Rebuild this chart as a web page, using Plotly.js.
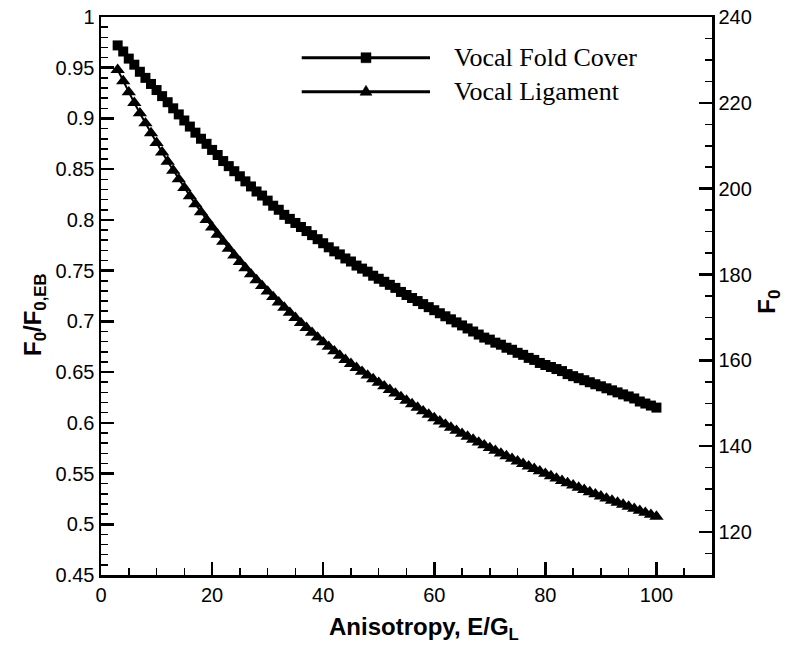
<!DOCTYPE html>
<html>
<head>
<meta charset="utf-8">
<script src="https://cdn.plot.ly/plotly-3.0.1.min.js"></script>
<style>html,body{margin:0;padding:0;background:#fff;}#chart{width:798px;height:650px;}</style>
</head>
<body>
<div id="chart"></div>
<script>
// ---- data ----
var anisotropy = [3,4,5,6,7,8,9,10,11,12,13,14,15,16,17,18,19,20,21,22,23,24,25,26,27,28,29,30,
  31,32,33,34,35,36,37,38,39,40,41,42,43,44,45,46,47,48,49,50,51,52,53,54,55,56,57,58,59,60,
  61,62,63,64,65,66,67,68,69,70,71,72,73,74,75,76,77,78,79,80,81,82,83,84,85,86,87,88,89,90,
  91,92,93,94,95,96,97,98,99,100];
var coverRatio = [0.972,0.966,0.959,0.953,0.946,0.940,0.934,0.928,
  0.922,0.916,0.910,0.904,0.898,0.892,0.886,0.880,0.875,0.869,
  0.864,0.858,0.853,0.848,0.843,0.838,0.833,0.828,0.824,0.819,
  0.814,0.810,0.805,0.801,0.797,0.793,0.789,0.785,0.781,0.777,
  0.773,0.769,0.766,0.762,0.759,0.755,0.752,0.749,0.745,0.742,
  0.739,0.736,0.733,0.729,0.726,0.723,0.720,0.717,0.714,0.711,
  0.708,0.705,0.702,0.699,0.696,0.693,0.690,0.687,0.684,0.682,
  0.679,0.677,0.674,0.672,0.669,0.667,0.664,0.662,0.659,0.657,
  0.655,0.653,0.651,0.648,0.646,0.644,0.642,0.640,0.638,0.636,
  0.634,0.632,0.630,0.628,0.626,0.624,0.621,0.619,0.617,0.615];
var ligamentRatio = [0.948,0.9368,0.9259,0.9154,0.9052,0.8953,0.8856,0.876,
  0.8666,0.8575,0.8487,0.8401,0.8317,0.8235,0.8155,0.8077,0.8001,0.7927,
  0.7855,0.7785,0.7717,0.7651,0.7587,0.7525,0.7465,0.7407,0.7350,0.7295,
  0.7241,0.7188,0.7136,0.7085,0.7035,0.6985,0.6936,0.6888,0.6841,0.6795,
  0.6750,0.6706,0.6663,0.6621,0.6581,0.6542,0.6504,0.6467,0.6431,0.6396,
  0.6361,0.6325,0.6290,0.6255,0.6220,0.6185,0.6150,0.6115,0.6081,0.6047,
  0.6015,0.5984,0.5953,0.5923,0.5893,0.5864,0.5835,0.5807,0.5779,0.5752,
  0.5725,0.5698,0.5672,0.5646,0.5621,0.5596,0.5571,0.5547,0.5523,0.5499,
  0.5475,0.5452,0.5429,0.5406,0.5384,0.5362,0.5340,0.5318,0.5297,0.5276,
  0.5255,0.5234,0.5214,0.5194,0.5174,0.5154,0.5134,0.5114,0.5095,0.5076];
var seriesNames = ["Vocal Fold Cover", "Vocal Ligament"];
var xTickVals = [0,20,40,60,80,100];
var xTickText = ["0","20","40","60","80","100"];
var yTickVals = [0.45,0.5,0.55,0.6,0.65,0.7,0.75,0.8,0.85,0.9,0.95,1];
var yTickText = ["0.45","0.5","0.55","0.6","0.65","0.7","0.75","0.8","0.85","0.9","0.95","1"];
var y2TickVals = [120,140,160,180,200,220,240];
var y2TickText = ["120","140","160","180","200","220","240"];

// ---- styling / layout ----
var SANS = "Liberation Sans, Arial, sans-serif";
var SERIF = "Liberation Serif, Times New Roman, serif";
var PW = 611, PH = 558; // plot area size in px
var legX0 = 0.3285, legX1 = 0.5385, legXm = 0.4337, legY = [0.927, 0.866], legTextX = 0.5745;

function sqPath(cx, cy, halfPx) {
  var dx = halfPx / PW, dy = halfPx / PH;
  return "M" + (cx - dx) + "," + (cy - dy) + " L" + (cx + dx) + "," + (cy - dy) +
         " L" + (cx + dx) + "," + (cy + dy) + " L" + (cx - dx) + "," + (cy + dy) + " Z";
}
function triPath(cx, cy, halfWPx, upPx, downPx) {
  var dx = halfWPx / PW, up = upPx / PH, dn = downPx / PH;
  return "M" + (cx - dx) + "," + (cy - dn) + " L" + (cx + dx) + "," + (cy - dn) +
         " L" + cx + "," + (cy + up) + " Z";
}

var traces = [
  {x: anisotropy, y: coverRatio, type: "scatter", mode: "lines+markers", name: seriesNames[0],
   line: {color: "#000", width: 2}, marker: {symbol: "square", size: 10, color: "#000"}},
  {x: anisotropy, y: ligamentRatio, type: "scatter", mode: "lines+markers", name: seriesNames[1],
   line: {color: "#000", width: 2}, marker: {symbol: "triangle-up", size: 12.5, color: "#000"}},
  // empty helper so the right-hand F0 axis gets its own subplot
  {x: [], y: [], yaxis: "y2", type: "scatter", mode: "markers", showlegend: false, hoverinfo: "skip"}
];

function axisCommon() {
  return {showgrid: false, zeroline: false, showline: true, linecolor: "#000", linewidth: 2.5,
          ticks: "inside", ticklen: 13, tickwidth: 2.5, tickcolor: "#000",
          tickfont: {family: SANS, size: 20, color: "#000"}};
}
var xa = axisCommon();
Object.assign(xa, {range: [0, 110], tickmode: "array", tickvals: xTickVals, ticktext: xTickText,
  mirror: true, minor: {tick0: 0, dtick: 5, ticks: "inside", ticklen: 7, tickwidth: 1.5, tickcolor: "#000"}});
var ya = axisCommon();
Object.assign(ya, {range: [0.45, 1], tickmode: "array", tickvals: yTickVals, ticktext: yTickText,
  minor: {tick0: 0.45, dtick: 0.01, ticks: "inside", ticklen: 7, tickwidth: 1.5, tickcolor: "#000"}});
var y2a = axisCommon();
Object.assign(y2a, {range: [110, 240], overlaying: "y", anchor: "x", side: "right", tickmode: "array",
  tickvals: y2TickVals, ticktext: y2TickText,
  minor: {tick0: 110, dtick: 5, ticks: "inside", ticklen: 7, tickwidth: 1.5, tickcolor: "#000"}});

var layout = {
  width: 798, height: 650,
  margin: {l: 101, r: 86, t: 17, b: 75, pad: 0},
  paper_bgcolor: "#fff", plot_bgcolor: "#fff",
  showlegend: false,
  xaxis: xa, yaxis: ya, yaxis2: y2a,
  shapes: [
    {type: "line", xref: "paper", yref: "paper", x0: legX0, x1: legX1, y0: legY[0], y1: legY[0],
     line: {color: "#000", width: 3}},
    {type: "line", xref: "paper", yref: "paper", x0: legX0, x1: legX1, y0: legY[1], y1: legY[1],
     line: {color: "#000", width: 3}},
    {type: "path", xref: "paper", yref: "paper", path: sqPath(legXm, legY[0], 5),
     fillcolor: "#000", line: {color: "#000", width: 0.5}},
    {type: "path", xref: "paper", yref: "paper", path: triPath(legXm, legY[1], 6, 6.5, 3.5),
     fillcolor: "#000", line: {color: "#000", width: 0.5}}
  ],
  annotations: [
    {xref: "paper", yref: "paper", x: legTextX, y: legY[0], xanchor: "left", yanchor: "middle",
     showarrow: false, text: seriesNames[0], font: {family: SERIF, size: 26, color: "#000"}},
    {xref: "paper", yref: "paper", x: legTextX, y: legY[1], xanchor: "left", yanchor: "middle",
     showarrow: false, text: seriesNames[1], font: {family: SERIF, size: 26, color: "#000"}},
    {xref: "paper", yref: "paper", x: 0.529, y: -0.095, xanchor: "center", yanchor: "middle",
     showarrow: false, text: "<b>Anisotropy, E/G<sub>L</sub></b>", font: {family: SANS, size: 24, color: "#000"}},
    {xref: "paper", yref: "paper", x: -0.108, y: 0.466, xanchor: "center", yanchor: "middle", textangle: -90,
     showarrow: false, text: "<b>F<sub>0</sub>/F<sub>0,EB</sub></b>", font: {family: SANS, size: 24, color: "#000"}},
    {xref: "paper", yref: "paper", x: 1.092, y: 0.49, xanchor: "center", yanchor: "middle", textangle: -90,
     showarrow: false, text: "<b>F<sub>0</sub></b>", font: {family: SANS, size: 24, color: "#000"}}
  ]
};

Plotly.newPlot("chart", traces, layout, {staticPlot: true, displayModeBar: false});
</script>
</body>
</html>
